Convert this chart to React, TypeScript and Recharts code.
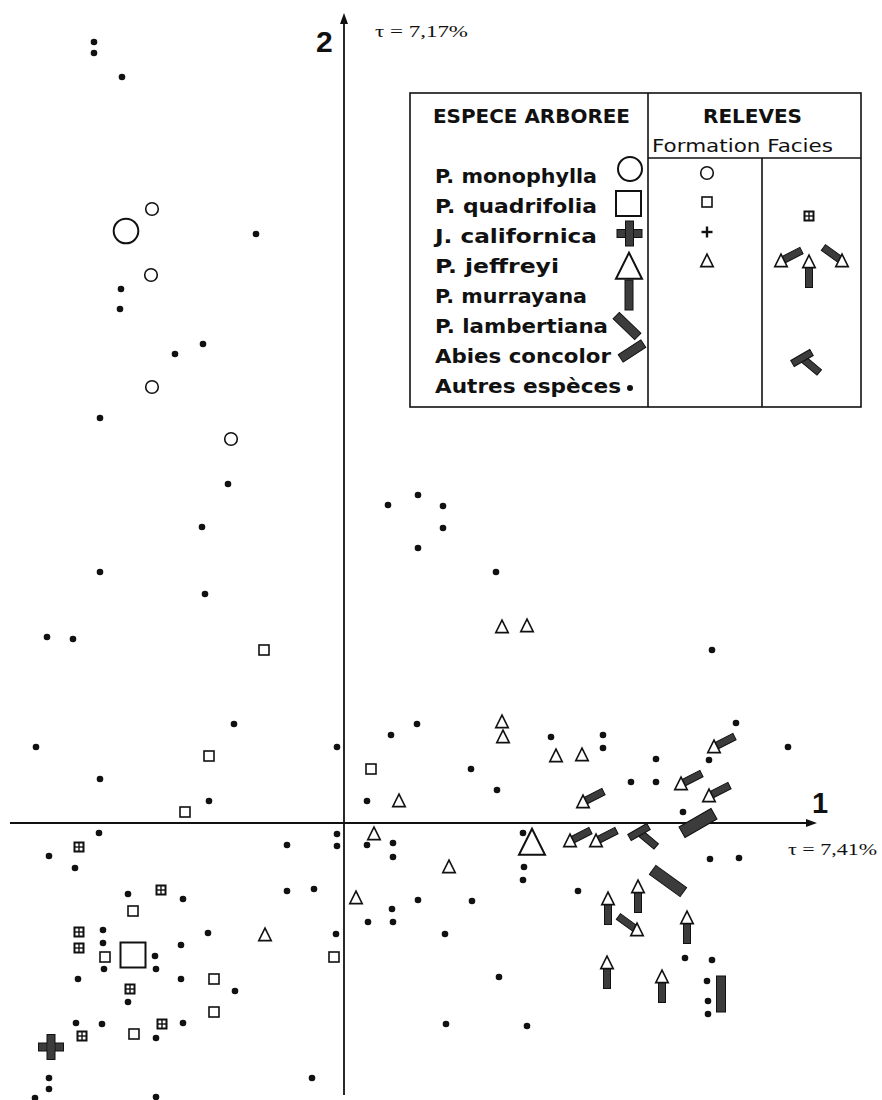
import React from "react";
import { ScatterChart, Scatter, XAxis, YAxis, ReferenceLine } from "recharts";

type Pt = { x: number; y: number };

// Espèces arborées (grands symboles)
const especeMonophylla: Pt[] = [{ x: -2.18, y: 5.92 }];
const especeQuadrifolia: Pt[] = [{ x: -2.11, y: -1.32 }];
const especeCalifornica: Pt[] = [{ x: -2.93, y: -2.24 }];
const especeJeffreyi: Pt[] = [{ x: 1.88, y: -0.2 }];
const especeMurrayana: Pt[] = [{ x: 3.77, y: -1.71 }];
const especeLambertiana: Pt[] = [{ x: 3.24, y: -0.58 }];
const especeAbies: Pt[] = [{ x: 3.54, y: 0.0 }];

// Autres espèces (points)
const autresEspeces: Pt[] = [
  { x: -2.5, y: 7.81 }, { x: -2.5, y: 7.7 }, { x: -2.22, y: 7.46 }, { x: -0.88, y: 5.89 },
  { x: -2.23, y: 5.34 }, { x: -2.24, y: 5.14 }, { x: -1.41, y: 4.79 }, { x: -1.69, y: 4.69 },
  { x: -2.44, y: 4.05 }, { x: -1.16, y: 3.39 }, { x: -1.42, y: 2.96 }, { x: -2.44, y: 2.51 },
  { x: -1.39, y: 2.29 }, { x: -2.97, y: 1.86 }, { x: -2.71, y: 1.84 }, { x: -1.1, y: 0.99 },
  { x: -3.08, y: 0.76 }, { x: -0.07, y: 0.76 }, { x: -2.44, y: 0.44 }, { x: -1.35, y: 0.22 },
  { x: -2.45, y: -0.1 }, { x: -2.95, y: -0.33 }, { x: -2.69, y: -0.45 }, { x: -0.57, y: -0.22 },
  { x: -0.07, y: -0.11 }, { x: -0.07, y: -0.23 }, { x: -2.16, y: -0.71 }, { x: -1.61, y: -0.76 },
  { x: -0.57, y: -0.68 }, { x: -0.3, y: -0.66 }, { x: -2.41, y: -1.07 }, { x: -2.41, y: -1.2 },
  { x: -1.89, y: -1.33 }, { x: -2.4, y: -1.46 }, { x: -1.88, y: -1.46 }, { x: -1.36, y: -1.1 },
  { x: -1.63, y: -1.22 }, { x: -0.08, y: -1.11 }, { x: -2.66, y: -1.56 }, { x: -1.63, y: -1.56 },
  { x: -1.09, y: -1.68 }, { x: -2.16, y: -1.79 }, { x: -2.68, y: -2.0 }, { x: -2.42, y: -2.01 },
  { x: -1.61, y: -2.0 }, { x: -1.88, y: -2.15 }, { x: -2.95, y: -2.55 }, { x: -2.95, y: -2.66 },
  { x: -3.09, y: -2.75 }, { x: -1.88, y: -2.74 }, { x: -0.32, y: -2.55 },
  { x: 0.44, y: 3.18 }, { x: 0.74, y: 3.28 }, { x: 0.99, y: 3.17 }, { x: 0.99, y: 2.95 },
  { x: 0.74, y: 2.75 }, { x: 1.52, y: 2.51 }, { x: 0.73, y: 0.99 }, { x: 0.47, y: 0.88 },
  { x: 2.07, y: 0.86 }, { x: 2.59, y: 0.88 }, { x: 2.59, y: 0.75 }, { x: 1.27, y: 0.54 },
  { x: 1.53, y: 0.33 }, { x: 0.23, y: 0.22 }, { x: 3.68, y: 1.73 }, { x: 3.92, y: 1.0 },
  { x: 4.44, y: 0.76 }, { x: 3.12, y: 0.64 }, { x: 3.65, y: 0.63 }, { x: 2.87, y: 0.41 },
  { x: 3.12, y: 0.41 }, { x: 3.39, y: 0.11 },
  { x: 0.23, y: -0.22 }, { x: 0.49, y: -0.2 }, { x: 0.49, y: -0.34 }, { x: 1.79, y: -0.1 },
  { x: 1.8, y: -0.44 }, { x: 1.79, y: -0.57 }, { x: 2.34, y: -0.68 }, { x: 0.74, y: -0.77 },
  { x: 1.28, y: -0.78 }, { x: 0.48, y: -0.86 }, { x: 0.24, y: -0.99 }, { x: 0.49, y: -0.99 },
  { x: 1.01, y: -1.11 }, { x: 1.55, y: -1.54 }, { x: 1.02, y: -2.01 }, { x: 1.83, y: -2.03 },
  { x: 3.66, y: -0.36 }, { x: 3.95, y: -0.35 }, { x: 3.41, y: -1.35 }, { x: 3.68, y: -1.37 },
  { x: 3.63, y: -1.58 }, { x: 3.64, y: -1.78 }, { x: 3.64, y: -1.91 },
];

// Relevés : formation
const formationMonophylla: Pt[] = [
  { x: -1.92, y: 6.14 }, { x: -1.93, y: 5.48 }, { x: -1.92, y: 4.36 }, { x: -1.13, y: 3.84 },
];
const formationQuadrifolia: Pt[] = [
  { x: -0.8, y: 1.73 }, { x: -1.35, y: 0.67 }, { x: -1.59, y: 0.11 }, { x: 0.27, y: 0.54 },
  { x: -2.11, y: -0.88 }, { x: -2.39, y: -1.34 }, { x: -1.3, y: -1.56 }, { x: -1.3, y: -1.89 },
  { x: -2.1, y: -2.11 }, { x: -0.1, y: -1.34 },
];
const formationJeffreyi: Pt[] = [
  { x: -0.79, y: -1.12 }, { x: 1.58, y: 1.96 }, { x: 1.83, y: 1.97 }, { x: 1.58, y: 1.01 },
  { x: 1.59, y: 0.86 }, { x: 2.12, y: 0.67 }, { x: 2.38, y: 0.68 }, { x: 0.55, y: 0.22 },
  { x: 0.3, y: -0.11 }, { x: 1.05, y: -0.44 }, { x: 0.12, y: -0.75 },
];

// Relevés : faciès
const faciesQuadrifolia: Pt[] = [
  { x: -2.65, y: -0.24 }, { x: -1.83, y: -0.67 }, { x: -2.65, y: -1.09 }, { x: -2.65, y: -1.25 },
  { x: -2.14, y: -1.66 }, { x: -1.82, y: -2.01 }, { x: -2.62, y: -2.13 },
];
const faciesAbies: Pt[] = [
  { x: 2.39, y: 0.21 }, { x: 3.7, y: 0.76 }, { x: 3.37, y: 0.39 }, { x: 3.65, y: 0.27 },
  { x: 2.26, y: -0.18 }, { x: 2.52, y: -0.18 },
];
const faciesMurrayana: Pt[] = [
  { x: 2.64, y: -0.76 }, { x: 2.94, y: -0.64 }, { x: 3.43, y: -0.95 }, { x: 2.63, y: -1.4 },
  { x: 3.18, y: -1.54 },
];
const faciesLambertiana: Pt[] = [{ x: 2.93, y: -1.07 }];
const faciesLambertAbies: Pt[] = [{ x: 2.99, y: -0.14 }];

const especesLegende = [
  "P. monophylla", "P. quadrifolia", "J. californica", "P. jeffreyi",
  "P. murrayana", "P. lambertiana", "Abies concolor", "Autres espèces",
];
const largeursLegende = [162, 162, 162, 124, 152, 173, 176, 186];

const INK = "#111";
const GREY = "#3c3c3c";

const rad = (d: number) => (d * Math.PI) / 180;

const Baton = (cx: number, cy: number, len: number, w: number, angle: number) => (
  <rect
    x={cx - len / 2}
    y={cy - w / 2}
    width={len}
    height={w}
    transform={`rotate(${angle} ${cx} ${cy})`}
    fill={GREY}
    stroke={INK}
    strokeWidth={1}
  />
);

const tri = (cx: number, cy: number, s: number, sw: number) => (
  <polygon
    points={`${cx},${cy - s * 0.55} ${cx - s / 2},${cy + s * 0.45} ${cx + s / 2},${cy + s * 0.45}`}
    fill="#fff"
    stroke={INK}
    strokeWidth={sw}
    strokeLinejoin="miter"
  />
);

const glyph = {
  dot: (cx: number, cy: number) => <circle cx={cx} cy={cy} r={3.3} fill={INK} />,
  smallCircle: (cx: number, cy: number) => (
    <circle cx={cx} cy={cy} r={6.3} fill="#fff" stroke={INK} strokeWidth={1.6} />
  ),
  bigCircle: (cx: number, cy: number) => (
    <circle cx={cx} cy={cy} r={12.3} fill="#fff" stroke={INK} strokeWidth={2} />
  ),
  smallSquare: (cx: number, cy: number) => (
    <rect x={cx - 5} y={cy - 5} width={10} height={10} fill="#fff" stroke={INK} strokeWidth={1.6} />
  ),
  bigSquare: (cx: number, cy: number) => (
    <rect x={cx - 12.5} y={cy - 12.5} width={25} height={25} fill="#fff" stroke={INK} strokeWidth={2} />
  ),
  grid: (cx: number, cy: number) => (
    <g>
      <rect x={cx - 5.5} y={cy - 5.5} width={11} height={11} fill={INK} />
      <rect x={cx - 3.5} y={cy - 3.5} width={2.8} height={2.8} fill="#fff" />
      <rect x={cx + 0.7} y={cy - 3.5} width={2.8} height={2.8} fill="#fff" />
      <rect x={cx - 3.5} y={cy + 0.7} width={2.8} height={2.8} fill="#fff" />
      <rect x={cx + 0.7} y={cy + 0.7} width={2.8} height={2.8} fill="#fff" />
    </g>
  ),
  bigCross: (cx: number, cy: number) => (
    <g>
      <rect x={cx - 12.5} y={cy - 4} width={25} height={8} fill={GREY} stroke={INK} strokeWidth={1} />
      <rect x={cx - 4} y={cy - 12.5} width={8} height={25} fill={GREY} stroke={INK} strokeWidth={1} />
      <rect x={cx - 3.5} y={cy - 3.5} width={7} height={7} fill={GREY} />
    </g>
  ),
  smallPlus: (cx: number, cy: number) => (
    <g stroke={INK} strokeWidth={2.4}>
      <line x1={cx - 5.5} y1={cy} x2={cx + 5.5} y2={cy} />
      <line x1={cx} y1={cy - 5.5} x2={cx} y2={cy + 5.5} />
    </g>
  ),
  smallTri: (cx: number, cy: number) => tri(cx, cy, 12.5, 1.6),
  bigTri: (cx: number, cy: number) => tri(cx, cy, 26, 2),
  murrayana: (cx: number, cy: number) => Baton(cx, cy, 36, 9, 90),
  lambertiana: (cx: number, cy: number) => Baton(cx, cy, 38, 11, 36),
  abies: (cx: number, cy: number) => Baton(cx, cy, 37, 12, -30),
  arrowAbies: (cx: number, cy: number) => {
    const a = -27;
    const d = 12.5;
    return (
      <g>
        {Baton(cx + Math.cos(rad(a)) * d, cy + Math.sin(rad(a)) * d, 21, 7, a)}
        {tri(cx, cy, 12.5, 1.6)}
      </g>
    );
  },
  arrowLambert: (cx: number, cy: number) => {
    const a = 216;
    const d = 12.5;
    return (
      <g>
        {Baton(cx + Math.cos(rad(a)) * d, cy + Math.sin(rad(a)) * d, 21, 7, 36)}
        {tri(cx, cy, 12.5, 1.6)}
      </g>
    );
  },
  arrowUp: (cx: number, cy: number) => (
    <g>
      {Baton(cx, cy + 15, 21, 7, 90)}
      {tri(cx, cy, 12.5, 1.6)}
    </g>
  ),
  tee: (cx: number, cy: number) => {
    const bx = cx - 4;
    const by = cy - 5;
    return (
      <g>
        {Baton(bx + Math.cos(rad(40)) * 11, by + Math.sin(rad(40)) * 11, 23, 7, 40)}
        {Baton(bx, by, 22, 7, -30)}
      </g>
    );
  },
};

type GlyphFn = (cx: number, cy: number) => React.ReactElement;
const shapeOf = (g: GlyphFn) => (p: any) => g(p.cx, p.cy);

const AxisArrow = (props: any) => {
  const { x1, y1, x2, y2, strokeWidth } = props;
  const dx = x2 - x1;
  const dy = y2 - y1;
  const len = Math.hypot(dx, dy) || 1;
  const ux = dx / len;
  const uy = dy / len;
  const hl = 11;
  const hw = 4;
  const bx = x2 - ux * hl;
  const by = y2 - uy * hl;
  return (
    <g>
      <line x1={x1} y1={y1} x2={bx} y2={by} stroke={INK} strokeWidth={strokeWidth} />
      <polygon
        points={`${x2},${y2} ${bx - uy * hw},${by + ux * hw} ${bx + uy * hw},${by - ux * hw}`}
        fill={INK}
      />
    </g>
  );
};

const Legende = () => {
  const sans = "'DejaVu Sans', sans-serif";
  const especeGlyphs: GlyphFn[] = [
    (x, y) => <circle cx={x} cy={y} r={12} fill="#fff" stroke={INK} strokeWidth={2} />,
    (x, y) => <rect x={x - 12.5} y={y - 12} width={25} height={25} fill="#fff" stroke={INK} strokeWidth={2} />,
    glyph.bigCross,
    (x, y) => tri(x, y, 26, 2),
    (x, y) => Baton(x, y, 30, 8, 90),
    (x, y) => Baton(x, y, 30, 9, 44),
    (x, y) => Baton(x, y, 27, 9, -33),
    (x, y) => <circle cx={x} cy={y} r={3} fill={INK} />,
  ];
  const glyphPos = [
    [630, 169], [628.5, 203], [629.5, 233.5], [629, 267], [629, 295], [627, 326], [632, 351], [630, 388],
  ];
  return (
    <g>
      <rect x={410} y={93} width={451} height={314} fill="#fff" stroke={INK} strokeWidth={1.6} />
      <line x1={648} y1={93} x2={648} y2={407} stroke={INK} strokeWidth={1.6} />
      <line x1={648} y1={158} x2={861} y2={158} stroke={INK} strokeWidth={1.6} />
      <line x1={762} y1={158} x2={762} y2={407} stroke={INK} strokeWidth={1.6} />
      <text x={433} y={123} fontFamily={sans} fontWeight="bold" fontSize={19} textLength={197} lengthAdjust="spacingAndGlyphs" fill={INK}>
        ESPECE ARBOREE
      </text>
      <text x={703} y={123} fontFamily={sans} fontWeight="bold" fontSize={19} textLength={99} lengthAdjust="spacingAndGlyphs" fill={INK}>
        RELEVES
      </text>
      <text x={652} y={152} fontFamily={sans} fontSize={18} textLength={181} lengthAdjust="spacingAndGlyphs" fill={INK}>
        Formation Facies
      </text>
      {especesLegende.map((nom, i) => (
        <text
          key={nom}
          x={435}
          y={183 + i * 30}
          fontFamily={sans}
          fontWeight="bold"
          fontSize={19}
          textLength={largeursLegende[i]}
          lengthAdjust="spacingAndGlyphs"
          fill={INK}
        >
          {nom}
        </text>
      ))}
      {especeGlyphs.map((g, i) => (
        <g key={i}>{g(glyphPos[i][0], glyphPos[i][1])}</g>
      ))}
      {glyph.smallCircle(707, 173)}
      {glyph.smallSquare(707, 202)}
      {glyph.smallPlus(707, 232)}
      {glyph.smallTri(707, 261)}
      {glyph.grid(809, 216)}
      {glyph.arrowAbies(781, 261)}
      {glyph.arrowUp(809, 262)}
      {glyph.arrowLambert(842, 261)}
      {glyph.tee(806, 363)}
    </g>
  );
};

export default function App() {
  return (
    <div style={{ position: "absolute", left: 0, top: 0, width: 882, height: 1100, background: "#fff" }}>
      <ScatterChart width={882} height={1100} margin={{ top: 0, right: 0, bottom: 0, left: 0 }}>
        <XAxis type="number" dataKey="x" domain={[-3.44, 5.38]} allowDataOverflow hide />
        <YAxis type="number" dataKey="y" domain={[-2.77, 8.23]} allowDataOverflow hide />
        <ReferenceLine
          segment={[{ x: -3.34, y: 0 }, { x: 4.73, y: 0 }]}
          ifOverflow="visible"
          strokeWidth={2.2}
          shape={AxisArrow}
        />
        <ReferenceLine
          segment={[{ x: 0, y: -2.72 }, { x: 0, y: 8.1 }]}
          ifOverflow="visible"
          strokeWidth={1.8}
          shape={AxisArrow}
        />
        <Scatter data={autresEspeces} shape={shapeOf(glyph.dot)} isAnimationActive={false} />
        <Scatter data={formationMonophylla} shape={shapeOf(glyph.smallCircle)} isAnimationActive={false} />
        <Scatter data={formationQuadrifolia} shape={shapeOf(glyph.smallSquare)} isAnimationActive={false} />
        <Scatter data={formationJeffreyi} shape={shapeOf(glyph.smallTri)} isAnimationActive={false} />
        <Scatter data={faciesQuadrifolia} shape={shapeOf(glyph.grid)} isAnimationActive={false} />
        <Scatter data={faciesAbies} shape={shapeOf(glyph.arrowAbies)} isAnimationActive={false} />
        <Scatter data={faciesMurrayana} shape={shapeOf(glyph.arrowUp)} isAnimationActive={false} />
        <Scatter data={faciesLambertiana} shape={shapeOf(glyph.arrowLambert)} isAnimationActive={false} />
        <Scatter data={faciesLambertAbies} shape={shapeOf(glyph.tee)} isAnimationActive={false} />
        <Scatter data={especeMonophylla} shape={shapeOf(glyph.bigCircle)} isAnimationActive={false} />
        <Scatter data={especeQuadrifolia} shape={shapeOf(glyph.bigSquare)} isAnimationActive={false} />
        <Scatter data={especeCalifornica} shape={shapeOf(glyph.bigCross)} isAnimationActive={false} />
        <Scatter data={especeJeffreyi} shape={shapeOf(glyph.bigTri)} isAnimationActive={false} />
        <Scatter data={especeMurrayana} shape={shapeOf(glyph.murrayana)} isAnimationActive={false} />
        <Scatter data={especeLambertiana} shape={shapeOf(glyph.lambertiana)} isAnimationActive={false} />
        <Scatter data={especeAbies} shape={shapeOf(glyph.abies)} isAnimationActive={false} />
      </ScatterChart>
      <svg width={882} height={1100} style={{ position: "absolute", left: 0, top: 0, pointerEvents: "none" }}>
        <text x={316} y={52} fontFamily="'Liberation Sans', sans-serif" fontWeight="bold" fontSize={30} fill={INK}>
          2
        </text>
        <text x={375} y={37} fontFamily="'Liberation Serif', serif" fontSize={16} textLength={93} lengthAdjust="spacingAndGlyphs" fill={INK}>
          τ = 7,17%
        </text>
        <text x={812} y={813} fontFamily="'Liberation Sans', sans-serif" fontWeight="bold" fontSize={29} fill={INK}>
          1
        </text>
        <text x={788} y={855} fontFamily="'Liberation Serif', serif" fontSize={16} textLength={89} lengthAdjust="spacingAndGlyphs" fill={INK}>
          τ = 7,41%
        </text>
        <Legende />
      </svg>
    </div>
  );
}
